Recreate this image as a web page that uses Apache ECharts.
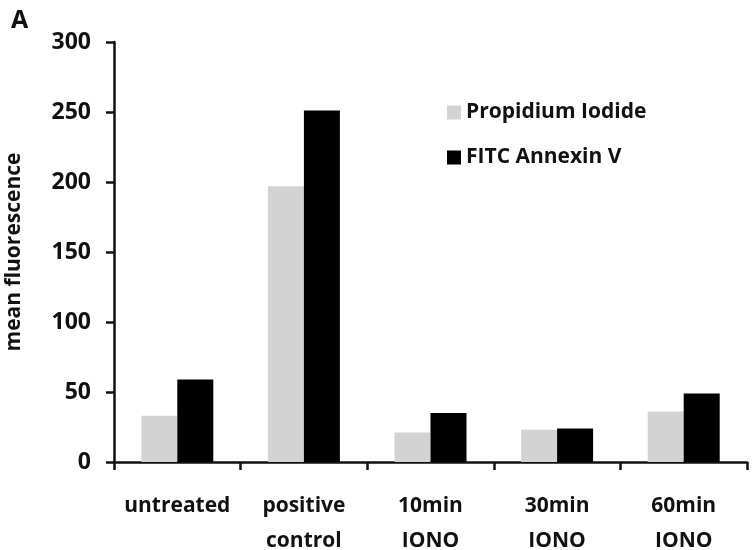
<!DOCTYPE html>
<html><head><meta charset="utf-8">
<script src="https://cdn.jsdelivr.net/npm/echarts@6/dist/echarts.min.js"></script>
<style>html,body{margin:0;padding:0;background:#fff}#c{width:756px;height:550px}</style>
</head><body><div id="c"></div>
<script>
const categories = ['untreated', 'positive\ncontrol', '10min\nIONO', '30min\nIONO', '60min\nIONO'];
const propidiumIodide = [33, 197, 21, 23, 36];
const fitcAnnexinV = [59, 251, 35, 24, 49];
const yTicks = [0, 50, 100, 150, 200, 250, 300];

const font = '"Open Sans", Lato, sans-serif';
const chart = echarts.init(document.getElementById('c'));
chart.setOption({
  animation: false,
  backgroundColor: '#fff',
  title: { text: 'A', left: 6, top: 3, textStyle: { fontFamily: font, fontWeight: 'bold', fontSize: 25, color: '#111' } },
  legend: {
    data: ['Propidium Iodide', 'FITC Annexin V'],
    orient: 'vertical', left: 442, top: 97, itemGap: 24,
    itemWidth: 14, itemHeight: 14, icon: 'rect',
    textStyle: { fontFamily: font, fontWeight: 'bold', fontSize: 21, color: '#111', padding: [0, 0, 0, 0] }
  },
  grid: { left: 114, right: 9, top: 42, bottom: 88, containLabel: false, outerBoundsMode: 'none' },
  xAxis: {
    type: 'category', data: categories,
    axisLine: { lineStyle: { color: '#111', width: 2.5 } },
    axisTick: { show: true, length: 8, alignWithLabel: false, lineStyle: { color: '#111', width: 2.5 } },
    axisLabel: { margin: 27, fontFamily: font, fontWeight: 'bold', fontSize: 21, color: '#111', lineHeight: 35, interval: 0 }
  },
  yAxis: {
    type: 'value', min: 0, max: 300, interval: 50,
    name: 'mean fluorescence', nameLocation: 'middle', nameGap: 89, nameRotate: 90,
    nameTextStyle: { fontFamily: font, fontWeight: 'bold', fontSize: 21, color: '#111' },
    axisLine: { show: true, lineStyle: { color: '#111', width: 2.5 } },
    axisTick: { show: true, length: 8, lineStyle: { color: '#111', width: 2.5 } },
    splitLine: { show: false },
    axisLabel: { margin: 23, fontFamily: font, fontWeight: 'bold', fontSize: 23, color: '#111',
      formatter: v => yTicks.includes(v) ? String(v) : '' }
  },
  series: [
    { name: 'Propidium Iodide', type: 'bar', data: propidiumIodide, barWidth: 36, barGap: '0%', itemStyle: { color: '#d3d3d3' } },
    { name: 'FITC Annexin V', type: 'bar', data: fitcAnnexinV, barWidth: 36, barGap: '0%', itemStyle: { color: '#000' } }
  ]
});
</script></body></html>
